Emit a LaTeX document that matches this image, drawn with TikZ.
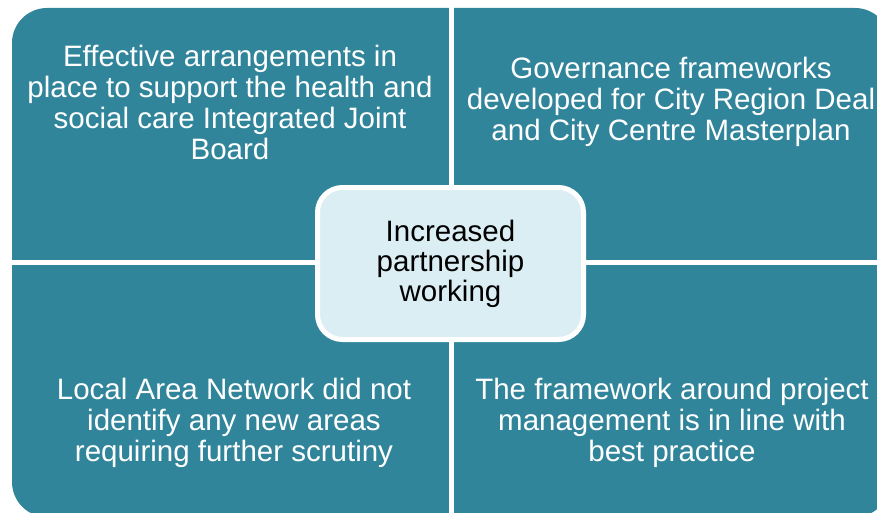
\documentclass[tikz,border=0pt]{standalone}
\usepackage{fontspec}
\setmainfont{Liberation Sans}
\usetikzlibrary{positioning}
\definecolor{quadteal}{RGB}{49,133,155}
\definecolor{hubblue}{RGB}{218,238,243}

\begin{document}
\begin{tikzpicture}[x=1pt, y=-1pt,
  quadtext/.style={text=white, align=center, font=\fontsize{29.5}{31}\selectfont},
  hub/.style={rectangle, rounded corners=25pt, fill=hubblue, draw=white, line width=5pt,
    minimum width=266pt, minimum height=152pt, align=center, font=\fontsize{29.5}{30}\selectfont}]
  \useasboundingbox (0,0) rectangle (877,513);
  \clip (0,0) rectangle (877,513);
  % matrix background, split by white gaps
  \fill[quadteal, rounded corners=35pt] (12,8) rectangle (890,517);
  \coordinate (gapN) at (451,0);
  \coordinate (gapS) at (451,520);
  \coordinate (gapW) at (0,262.5);
  \coordinate (gapE) at (890,262.5);
  \draw[white, line width=5pt] (gapN) -- (gapS);
  \draw[white, line width=5pt] (gapW) -- (gapE);

  \node[quadtext] (tl) at (230,102) {Effective arrangements in\\place to support the health and\\social care Integrated Joint\\Board};
  \node[quadtext] (tr) at (671,102) {Governance frameworks\\developed for City Region Deal\\and City Centre Masterplan};
  \node[quadtext] (bl) at (234,423) {Local Area Network did not\\identify any new areas\\requiring further scrutiny};
  \node[quadtext] (br) at (672,423) {The framework around project\\management is in line with\\best practice};

  \node[hub] (hub) at (450.5,263.5) {Increased\\partnership\\working};
\end{tikzpicture}
\end{document}
